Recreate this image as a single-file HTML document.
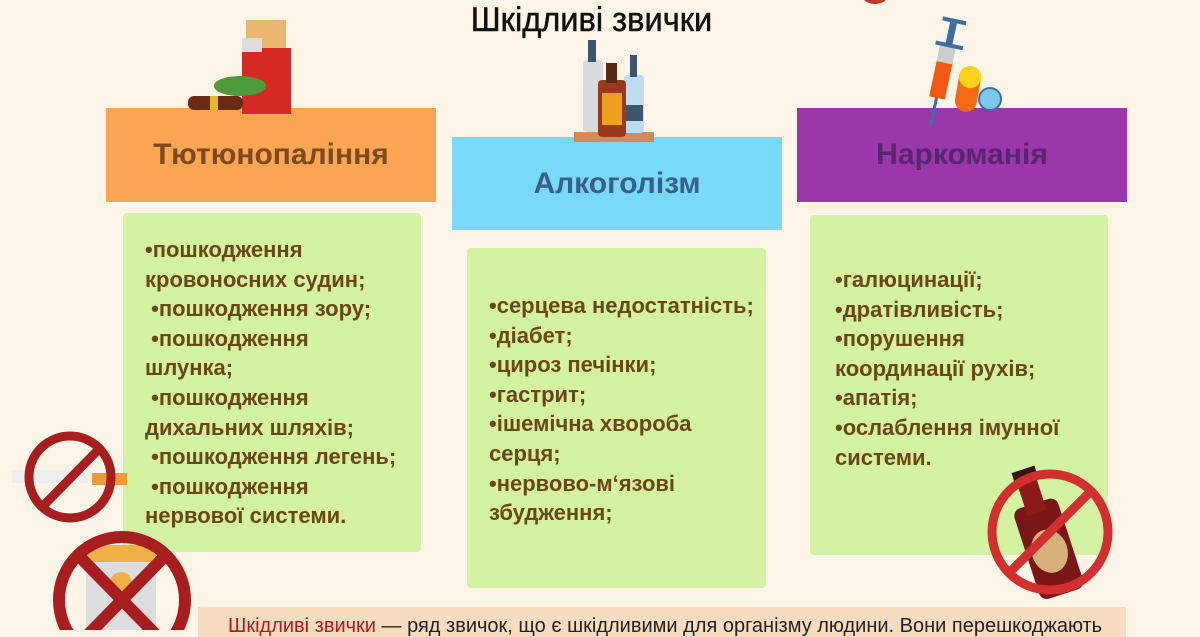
<!DOCTYPE html>
<html><head><meta charset="utf-8"><style>
*{margin:0;padding:0;box-sizing:border-box}
body{width:1200px;height:630px;overflow:hidden;background:#fdf5e8;position:relative;font-family:"Liberation Sans",sans-serif}
.a{position:absolute}
.hd{position:absolute;display:flex;align-items:center;justify-content:center;font-weight:bold;font-size:30px}
.g{position:absolute;background:#d3f2a2;border-radius:4px;color:#6b4714;font-weight:bold;font-size:22px;line-height:29.6px;padding-left:22px;white-space:nowrap}
.title{position:absolute;left:0;width:1183px;top:1px;text-align:center;font-size:34px;color:#111;transform:scaleX(.96);-webkit-text-stroke:0.5px #111}
</style></head><body>
<div class="title">Шкідливі звички</div>
<div class="a" style="left:862px;top:-14px;width:26px;height:18px;border-radius:50%;background:#c0392b"></div>

<div class="hd" style="left:106px;top:108px;width:330px;height:94px;background:#fca552;color:#7c4a1c">Тютюнопаління</div>
<div class="hd" style="left:452px;top:137px;width:330px;height:93px;background:#79d9f8;color:#3a5f8b">Алкоголізм</div>
<div class="hd" style="left:797px;top:108px;width:330px;height:94px;background:#9a37ab;color:#5a2470">Наркоманія</div>

<div class="g" style="left:123px;top:213px;width:298px;height:339px;padding-top:22px">
•пошкодження<br>кровоносних судин;<br>&nbsp;•пошкодження зору;<br>&nbsp;•пошкодження<br>шлунка;<br>&nbsp;•пошкодження<br>дихальних шляхів;<br>&nbsp;•пошкодження легень;<br>&nbsp;•пошкодження<br>нервової системи.</div>
<div class="g" style="left:467px;top:248px;width:299px;height:340px;padding-top:43px">
•серцева недостатність;<br>•діабет;<br>•цироз печінки;<br>•гастрит;<br>•ішемічна хвороба<br>серця;<br>•нервово-м‘язові<br>збудження;</div>
<div class="g" style="left:810px;top:215px;width:298px;height:340px;padding-top:50px;padding-left:25px">
•галюцинації;<br>•дратівливість;<br>•порушення<br>координації рухів;<br>•апатія;<br>•ослаблення імунної<br>системи.</div>

<div class="a" style="left:198px;top:607px;width:928px;height:30px;background:#f8dcbf;font-size:20px;color:#222;padding:8px 0 0 30px;white-space:nowrap;overflow:hidden"><span style="color:#b3191c">Шкідливі звички</span> — ряд звичок, що є шкідливими для організму людини. Вони перешкоджають</div>

<svg class="a" style="left:0;top:0" width="1200" height="630">
<rect x="242" y="48" width="49" height="66" fill="#d32b24"/>
<rect x="246" y="20" width="40" height="28" fill="#e9b770"/>
<rect x="242" y="38" width="20" height="14" fill="#ddd"/>
<ellipse cx="240" cy="86" rx="26" ry="10" fill="#4f9a3a"/>
<rect x="188" y="96" width="55" height="14" rx="6" fill="#6b2a14"/>
<rect x="210" y="96" width="8" height="14" fill="#e8b523"/>
<rect x="574" y="132" width="80" height="10" fill="#d68a57"/>
<rect x="583" y="60" width="20" height="72" rx="4" fill="#d6dbe0"/><rect x="588" y="40" width="8" height="22" fill="#3d5570"/>
<rect x="624" y="75" width="20" height="58" rx="4" fill="#bcdcf0"/><rect x="630" y="55" width="7" height="22" fill="#3d5570"/>
<rect x="626" y="105" width="17" height="16" fill="#3d5570"/>
<rect x="598" y="80" width="28" height="57" rx="4" fill="#9b3a1b"/><rect x="606" y="63" width="11" height="20" fill="#5a2a10"/>
<rect x="602" y="93" width="20" height="32" fill="#f0a020"/>
<g transform="rotate(12 945 70)">
<rect x="941" y="78" width="3" height="50" fill="#3f6fa0"/>
<rect x="935" y="45" width="16" height="20" fill="#ccc"/>
<rect x="935" y="63" width="16" height="36" fill="#f05a14"/>
<rect x="940" y="22" width="7" height="25" fill="#3f6fa0"/>
<rect x="932" y="18" width="24" height="4" fill="#3f6fa0"/>
<rect x="930" y="43" width="28" height="4" fill="#3f6fa0"/>
</g>
<rect x="957" y="66" width="22" height="46" rx="11" fill="#f26a12" transform="rotate(10 968 89)"/>
<rect x="957" y="66" width="22" height="22" rx="11" fill="#ffd21a" transform="rotate(10 968 89)"/>
<circle cx="990" cy="99" r="11" fill="#7ec8ea" stroke="#3f6fa0" stroke-width="2"/>
<rect x="12" y="470" width="80" height="13" fill="#eee"/>
<rect x="92" y="473" width="35" height="12" fill="#ef9a3a"/>
<circle cx="70" cy="477" r="41" fill="none" stroke="#a81d1d" stroke-width="9"/>
<line x1="42" y1="507" x2="100" y2="448" stroke="#a81d1d" stroke-width="9"/>
<rect x="86" y="545" width="70" height="90" fill="#ddd"/>
<rect x="86" y="545" width="70" height="17" fill="#f0b048"/>
<circle cx="121" cy="583" r="11" fill="#f0b048"/>
<circle cx="122" cy="600" r="63" fill="none" stroke="#a81d1d" stroke-width="12"/>
<line x1="78" y1="555" x2="166" y2="645" stroke="#a81d1d" stroke-width="12"/>
<line x1="166" y1="555" x2="78" y2="645" stroke="#a81d1d" stroke-width="12"/>
<g transform="rotate(-18 1050 530)">
<rect x="1020" y="500" width="46" height="95" rx="8" fill="#7a1616"/>
<rect x="1033" y="470" width="20" height="40" fill="#8c1a1a"/>
<rect x="1031" y="464" width="24" height="8" fill="#3a1010"/>
<ellipse cx="1043" cy="550" rx="18" ry="22" fill="#d6b27a"/>
</g>
<circle cx="1050" cy="532" r="58" fill="none" stroke="#d32f2f" stroke-width="9"/>
<line x1="1010" y1="572" x2="1090" y2="492" stroke="#d32f2f" stroke-width="9"/>
</svg>
</body></html>
